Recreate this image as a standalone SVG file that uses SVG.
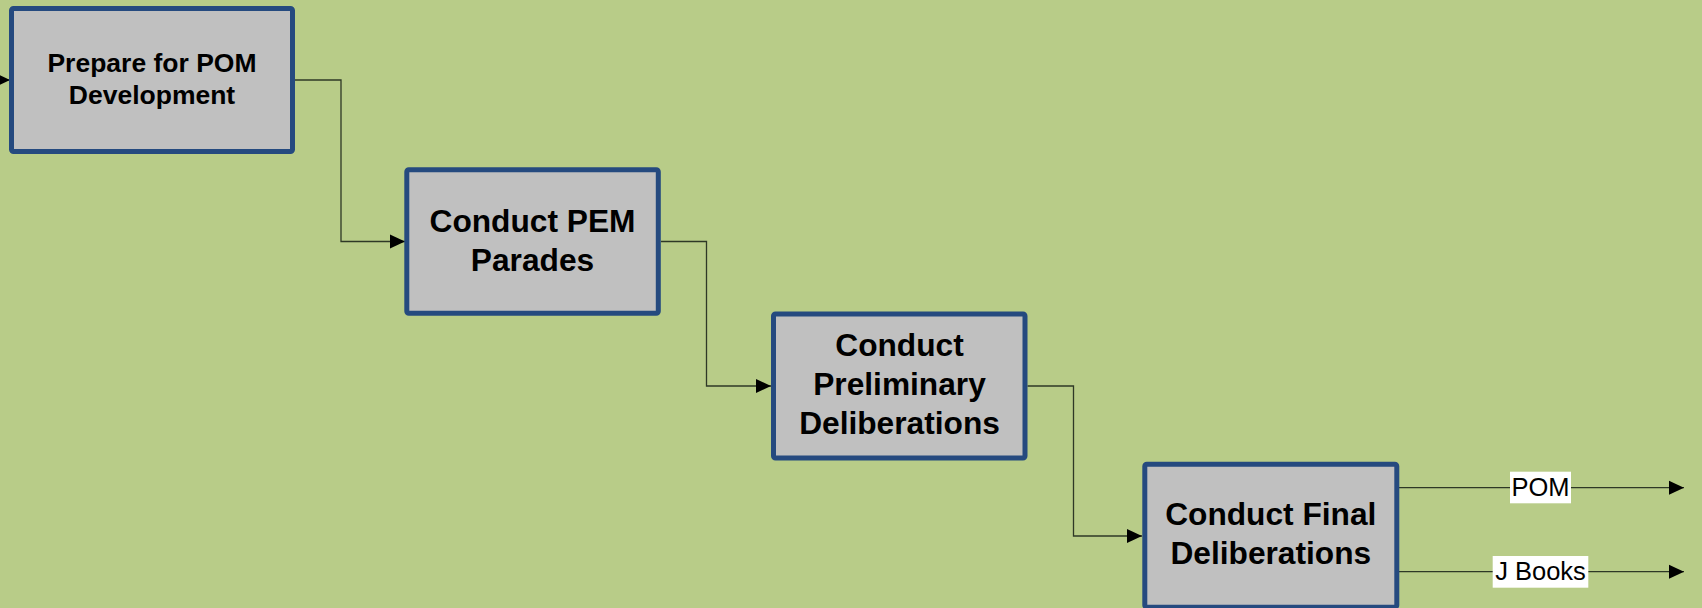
<svg xmlns="http://www.w3.org/2000/svg" width="1702" height="608" viewBox="0 0 1702 608">
<style>
.box{fill:#C0C0C0;stroke:#254A7F;stroke-width:5}
.t{font-family:"Liberation Sans",Arial,sans-serif;font-weight:bold;fill:#000;text-anchor:middle}
.c{fill:none;stroke:#2E3826;stroke-width:1.3}
.lbl{font-family:"Liberation Sans",Arial,sans-serif;font-size:25.5px;fill:#000;text-anchor:middle}
</style>
<defs>
<marker id="ah" markerUnits="userSpaceOnUse" markerWidth="15" markerHeight="15" viewBox="0 0 15 15" refX="15" refY="7.5" orient="auto">
<path d="M0,0.5 L15,7.5 L0,14.5 Z" fill="#000"/>
</marker>
</defs>
<rect x="0" y="0" width="1702" height="608" fill="#B8CC88"/>
<g id="connectors">
<path class="c" d="M-5,80 L10,80" marker-end="url(#ah)"/>
<path class="c" d="M295,80 L341,80 L341,241.5 L405,241.5" marker-end="url(#ah)"/>
<path class="c" d="M661,241.5 L706.5,241.5 L706.5,386 L771,386" marker-end="url(#ah)"/>
<path class="c" d="M1027.5,386 L1073.5,386 L1073.5,536 L1142,536" marker-end="url(#ah)"/>
<path class="c" d="M1398,487.7 L1684,487.7" marker-end="url(#ah)"/>
<path class="c" d="M1398,571.7 L1684,571.7" marker-end="url(#ah)"/>
</g>
<g id="node1">
<rect class="box" x="11.5" y="8.5" width="281" height="143" rx="2"/>
<text class="t" font-size="26.5" x="152" y="72">Prepare for POM</text>
<text class="t" font-size="26.5" x="152" y="104">Development</text>
</g>
<g id="node2">
<rect class="box" x="406.8" y="169.8" width="251.5" height="143.5" rx="2"/>
<text class="t" font-size="31.7" x="532.5" y="231.7">Conduct PEM</text>
<text class="t" font-size="31.7" x="532.5" y="270.7">Parades</text>
</g>
<g id="node3">
<rect class="box" x="773.5" y="314" width="251.5" height="144" rx="2"/>
<text class="t" font-size="31.7" x="899.5" y="356">Conduct</text>
<text class="t" font-size="31.7" x="899.5" y="395">Preliminary</text>
<text class="t" font-size="31.7" x="899.5" y="433.5">Deliberations</text>
</g>
<g id="node4">
<rect class="box" x="1144.8" y="464.2" width="252" height="143" rx="2"/>
<text class="t" font-size="31.7" x="1270.8" y="525">Conduct Final</text>
<text class="t" font-size="31.7" x="1270.8" y="564">Deliberations</text>
</g>
<g id="label-pom">
<rect x="1510" y="471.7" width="61" height="31.6" fill="#fff"/>
<text class="lbl" x="1540.5" y="496">POM</text>
</g>
<g id="label-jbooks">
<rect x="1492.7" y="556" width="95.6" height="31.7" fill="#fff"/>
<text class="lbl" x="1540.5" y="580">J Books</text>
</g>
</svg>
